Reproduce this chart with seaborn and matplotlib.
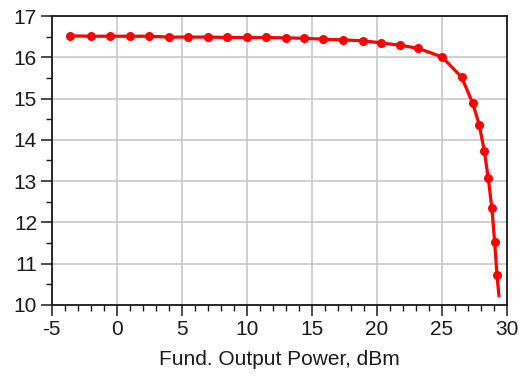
import matplotlib
matplotlib.use("Agg")
import matplotlib.pyplot as plt
from matplotlib.ticker import MultipleLocator
import seaborn as sns
import pandas as pd

# Fundamental output power (dBm) vs. gain (dB)
output_power = [-3.56, -1.98, -0.52, 1.02, 2.48, 4.02, 5.46, 7.0, 8.46, 10.0,
                11.46, 13.0, 14.43, 15.85, 17.43, 18.9, 20.33, 21.8, 23.15, 25.0,
                26.51, 27.36, 27.87, 28.25, 28.56, 28.84, 29.05, 29.23, 29.38]
gain = [16.52, 16.51, 16.51, 16.51, 16.51, 16.49, 16.49, 16.49, 16.48, 16.48,
        16.48, 16.47, 16.46, 16.44, 16.42, 16.40, 16.35, 16.29, 16.22, 16.01,
        15.52, 14.89, 14.36, 13.74, 13.07, 12.34, 11.53, 10.73, 10.22]
x_ticks = [-5, 0, 5, 10, 15, 20, 25, 30]
y_ticks = [10, 11, 12, 13, 14, 15, 16, 17]

df = pd.DataFrame({"pout": output_power, "gain": gain})

sns.set_theme(style="white")
plt.rcParams["font.family"] = ["Liberation Sans", "DejaVu Sans"]
plt.rcParams["axes.unicode_minus"] = False

fig = plt.figure(figsize=(5.2, 3.82), dpi=100)
ax = fig.add_axes([0.0994, 0.2016, 0.8756, 0.7565])

sns.lineplot(data=df, x="pout", y="gain", sort=False, ax=ax,
             color="#ff0000", linewidth=2.3, marker="o", markersize=6.5,
             markeredgewidth=0, markevery=list(range(len(df) - 1)))

ax.set_xlim(-5, 30)
ax.set_ylim(10, 17)
ax.set_xticks(x_ticks)
ax.set_yticks(y_ticks)
ax.xaxis.set_minor_locator(MultipleLocator(1))
ax.yaxis.set_minor_locator(MultipleLocator(0.5))
ax.grid(True, which="major", color="#c8c8c8", linewidth=1.2)
ax.set_axisbelow(True)

for s in ax.spines.values():
    s.set_color("#1a1a1a")
    s.set_linewidth(1.3)

ax.tick_params(which="major", direction="out", length=8, width=1.1,
               labelsize=15, pad=2.5, colors="#1a1a1a")
ax.tick_params(which="minor", direction="out", length=4.5, width=1,
               color="#1a1a1a")
ax.tick_params(which="both", bottom=True, left=True, top=False, right=False)

ax.set_xlabel("Fund. Output Power, dBm", fontsize=15, color="#1a1a1a", labelpad=8)
ax.set_ylabel("")

fig.savefig("out.png", dpi=100)
